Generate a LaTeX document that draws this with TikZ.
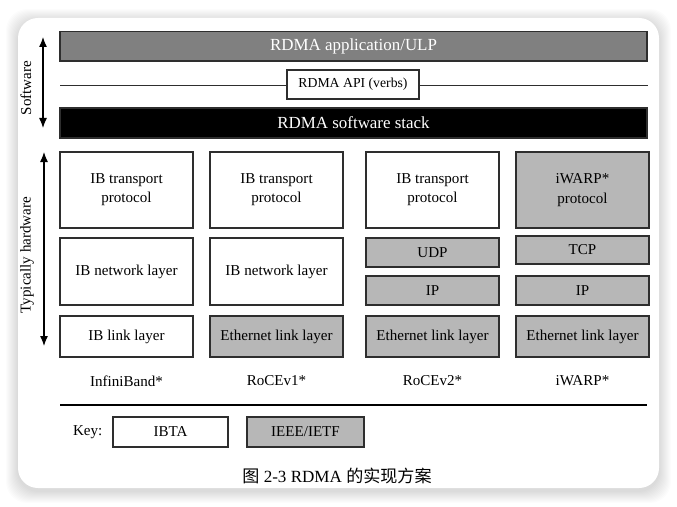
\documentclass[tikz,border=0pt]{standalone}
\usepackage{fontspec}
\setmainfont{Liberation Serif}
\newfontfamily\cjk{Noto Sans CJK SC}
\usetikzlibrary{arrows.meta}
\definecolor{midgray}{HTML}{808080}
\definecolor{lgray}{HTML}{B7B7B7}
\definecolor{edge}{HTML}{2E2E2E}
\newcommand\fbig{\fontsize{12.7}{15}\selectfont}
\newcommand\fhw{\fontsize{11.3}{14.5}\selectfont}
\newcommand\fapi{\fontsize{10.3}{12}\selectfont}
\newcommand\fcap{\fontsize{12.8}{15}\selectfont}
\begin{document}
\begin{tikzpicture}[x=0.75pt,y=-0.75pt,
  box/.style={draw=edge,line width=1pt,inner sep=0pt,align=center,font=\fhw},
  wbox/.style={box,fill=white},
  gbox/.style={box,fill=lgray},
  colw/.style={minimum width=99.75pt},
  rowa/.style={minimum height=57pt},
  rowb/.style={minimum height=50.25pt},
  rowc/.style={minimum height=30.75pt},
  rows/.style={minimum height=21.75pt},
  bar/.style={draw=edge,line width=1pt,inner sep=0pt,minimum width=440.25pt,font=\fbig},
  side/.style={font=\fhw,rotate=90},
  darr/.style={{Latex[length=7.5pt,width=6pt]}-{Latex[length=7.5pt,width=6pt]},line width=0.9pt},
  lbl/.style={font=\fhw}
]
\useasboundingbox (0,0) rectangle (677,506);
\fill[white] (0,0) rectangle (677,506);
% shadow
\foreach \i in {1,...,12}{
  \fill[black,opacity=0.013,rounded corners=16] ({18-\i},{18-\i+3}) rectangle ({659+\i},{488+\i+3});
}
\fill[white,rounded corners=15] (18,18) rectangle (659,488);

% software part
\node[bar,fill=midgray,text=white,minimum height=22pt] (app) at (353.5,46.3) {RDMA application/ULP};
\node[bar,fill=black,text=white,minimum height=22.5pt] (stack) at (353.5,123) {RDMA software stack};
\coordinate (apiL) at (60,85.3);
\coordinate (apiR) at (648,85.3);
\node[draw=edge,line width=1pt,fill=white,inner sep=0pt,minimum width=99pt,minimum height=21.75pt,font=\fapi] (api) at (353,84.5) {RDMA API (verbs)};
\draw[edge,line width=1.1pt] (apiL) -- (api.west |- apiL);
\draw[edge,line width=1.1pt] (api.east |- apiR) -- (apiR);

\coordinate (swT) at (43,37);
\coordinate (swB) at (43,128);
\draw[darr] (swT) -- (swB);
\node[side] (swl) at (26,88) {Software};

\coordinate (hwT) at (44,152);
\coordinate (hwB) at (44,346);
\draw[darr] (hwT) -- (hwB);
\node[side] (hwl) at (27,255) {Typically hardware};

% column 1
\node[wbox,colw,rowa] (c1a) at (126.5,190) {IB transport\\protocol};
\node[wbox,colw,rowb] (c1b) at (126.5,271.5) {IB network layer};
\node[wbox,colw,rowc] (c1c) at (126.5,336.5) {IB link layer};
% column 2
\node[wbox,colw,rowa] (c2a) at (276.5,190) {IB transport\\protocol};
\node[wbox,colw,rowb] (c2b) at (276.5,271.5) {IB network layer};
\node[gbox,colw,rowc] (c2c) at (276.5,336.5) {Ethernet link layer};
% column 3
\node[wbox,colw,rowa] (c3a) at (432.5,190) {IB transport\\protocol};
\node[gbox,colw,rows] (c3b) at (432.5,252.5) {UDP};
\node[gbox,colw,rows] (c3c) at (432.5,290.5) {IP};
\node[gbox,colw,rowc] (c3d) at (432.5,336.5) {Ethernet link layer};
% column 4
\node[gbox,colw,rowa] (c4a) at (582.5,190) {iWARP*\\protocol};
\node[gbox,colw,minimum height=21pt] (c4b) at (582.5,250) {TCP};
\node[gbox,colw,rows] (c4c) at (582.5,290.5) {IP};
\node[gbox,colw,rowc] (c4d) at (582.5,336.5) {Ethernet link layer};

\node[lbl] (l1) at (126.5,381) {InfiniBand*};
\node[lbl] (l2) at (276.5,381) {RoCEv1*};
\node[lbl] (l3) at (432.5,381) {RoCEv2*};
\node[lbl] (l4) at (582.5,381) {iWARP*};

\coordinate (sepL) at (60,405);
\coordinate (sepR) at (647,405);
\draw[black,line width=1.2pt] (sepL) -- (sepR);

\node[lbl,anchor=east] (key) at (107,432) {Key:};
\node[wbox,minimum width=86.25pt,minimum height=22.5pt] (ibta) at (170.5,432) {IBTA};
\node[gbox,minimum width=87.75pt,minimum height=22.5pt] (ieee) at (305.5,432) {IEEE/IETF};

\node[font=\fcap] (cap) at (337,476) {{\cjk 图} 2-3 RDMA {\cjk 的实现方案}};
\end{tikzpicture}
\end{document}
